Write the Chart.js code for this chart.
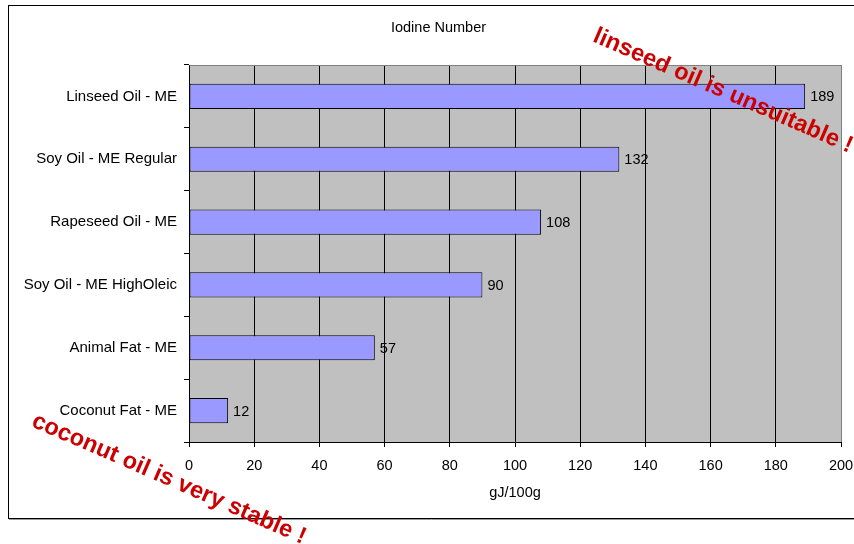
<!DOCTYPE html>
<html>
<head>
<meta charset="utf-8">
<script src="https://cdn.jsdelivr.net/npm/chart.js@4/dist/chart.umd.min.js"></script>
<style>
  html, body { margin: 0; padding: 0; background: #fff; }
  #wrap { width: 854px; height: 544px; }
</style>
</head>
<body>
<div id="wrap"><canvas id="chart" width="854" height="544"></canvas></div>
<script>
// Iodine number of biodiesel feedstocks (methyl esters)
const categories = [
  'Linseed Oil - ME',
  'Soy Oil - ME Regular',
  'Rapeseed Oil - ME',
  'Soy Oil - ME HighOleic',
  'Animal Fat - ME',
  'Coconut Fat - ME'
];
const iodineValues = [189, 132, 108, 90, 57, 12];
const xTickValues = [0, 20, 40, 60, 80, 100, 120, 140, 160, 180, 200];
const chartTitle = 'Iodine Number';
const xAxisTitle = 'gJ/100g';
const notes = [
  { text: 'linseed oil is unsuitable !', x: 723, y: 91 },
  { text: 'coconut oil is very stable !', x: 169, y: 479 }
];

const FONT = "'Liberation Sans', Arial, sans-serif";
Chart.defaults.font.family = FONT;
Chart.defaults.color = '#000';

// Page frame, white background and grey plot area
const framePlugin = {
  id: 'frame',
  beforeDraw(chart) {
    const { ctx, chartArea: a } = chart;
    ctx.save();
    ctx.fillStyle = '#fff';
    ctx.fillRect(0, 0, chart.width, chart.height);
    ctx.strokeStyle = '#000';
    ctx.lineWidth = 1;
    ctx.strokeRect(8.5, 5.5, 880, 513);
    ctx.strokeStyle = '#9a9a9a';
    ctx.beginPath();
    ctx.moveTo(9, 519.5); ctx.lineTo(854, 519.5);
    ctx.stroke();
    ctx.fillStyle = '#c0c0c0';
    ctx.fillRect(a.left, a.top, a.right - a.left, a.bottom - a.top);
    ctx.restore();
  },
  afterDatasetsDraw(chart) {
    const { ctx, chartArea: a } = chart;
    ctx.save();
    // plot border on top and right
    ctx.strokeStyle = '#808080';
    ctx.lineWidth = 1;
    ctx.beginPath();
    ctx.moveTo(Math.round(a.left) + 0.5, Math.round(a.top) + 0.5);
    ctx.lineTo(Math.round(a.right) + 0.5, Math.round(a.top) + 0.5);
    ctx.lineTo(Math.round(a.right) + 0.5, Math.round(a.bottom));
    ctx.stroke();
    // value labels at the end of each bar
    const meta = chart.getDatasetMeta(0);
    ctx.fillStyle = '#000';
    ctx.font = '14.5px ' + FONT;
    ctx.textAlign = 'left';
    ctx.textBaseline = 'middle';
    meta.data.forEach((bar, i) => {
      ctx.fillText(String(chart.data.datasets[0].data[i]), bar.x + 5, bar.y + 1);
    });
    ctx.restore();
  },
  afterDraw(chart) {
    const { ctx } = chart;
    ctx.save();
    ctx.fillStyle = '#cc0000';
    ctx.font = 'bold 23.6px ' + FONT;
    ctx.textAlign = 'center';
    ctx.textBaseline = 'middle';
    notes.forEach(n => {
      ctx.save();
      ctx.translate(n.x, n.y);
      ctx.rotate(23.5 * Math.PI / 180);
      ctx.fillText(n.text, 0, 0);
      ctx.restore();
    });
    ctx.restore();
  }
};

new Chart(document.getElementById('chart'), {
  type: 'bar',
  data: {
    labels: categories,
    datasets: [{
      data: iodineValues,
      backgroundColor: '#9999ff',
      borderColor: '#000',
      borderWidth: 1,
      borderSkipped: false,
      barPercentage: 0.4,
      categoryPercentage: 1.0
    }]
  },
  options: {
    indexAxis: 'y',
    responsive: false,
    animation: false,
    layout: { padding: { left: 23, right: 0, top: 0, bottom: 0 } },
    plugins: {
      legend: { display: false },
      tooltip: { enabled: false },
      title: {
        display: true,
        text: chartTitle,
        color: '#000',
        font: { size: 14.5, weight: 'normal', family: FONT },
        padding: { top: 19, bottom: 28.6 }
      }
    },
    scales: {
      x: {
        type: 'linear',
        min: 0,
        max: 200,
        afterBuildTicks(scale) { scale.ticks = xTickValues.map(v => ({ value: v })); },
        afterFit(scale) {
          scale.height = 102;
          scale.paddingLeft = 0;
          scale.paddingRight = 13;
        },
        ticks: { font: { size: 14.5 }, color: '#000', padding: 10, maxRotation: 0 },
        grid: {
          color: ctx => (ctx.tick && ctx.tick.value === 200 ? '#808080' : '#000'),
          tickColor: '#000',
          lineWidth: 1,
          tickLength: 5,
          drawOnChartArea: true
        },
        border: { display: true, color: '#000', width: 1 },
        title: {
          display: true,
          text: xAxisTitle,
          color: '#000',
          font: { size: 14.5 },
          padding: { top: 0, bottom: 42 }
        }
      },
      y: {
        type: 'category',
        offset: true,
        afterFit(scale) { scale.width = 166; },
        ticks: { font: { size: 15 }, color: '#000', padding: 7 },
        grid: {
          offset: true,
          drawOnChartArea: false,
          color: '#000',
          tickLength: 5,
          lineWidth: 1
        },
        border: { display: true, color: '#000', width: 1 }
      }
    }
  },
  plugins: [framePlugin]
});
</script>
</body>
</html>
